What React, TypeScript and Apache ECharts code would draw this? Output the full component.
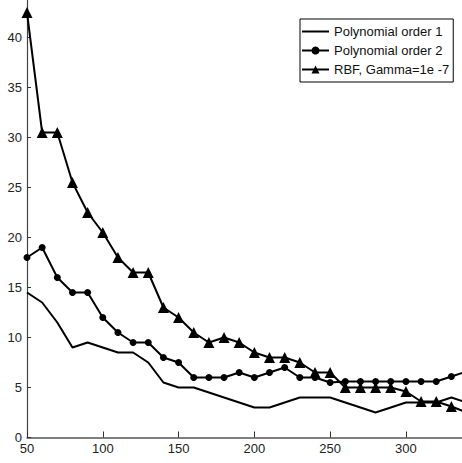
import React, { useEffect, useRef } from "react";
import * as echarts from "echarts";

const xValues = [50, 60, 70, 80, 90, 100, 110, 120, 130, 140, 150, 160, 170, 180, 190, 200, 210, 220, 230, 240, 250, 260, 270, 280, 290, 300, 310, 320, 330, 340];
const poly1 = [14.5, 13.5, 11.5, 9.0, 9.5, 9.0, 8.5, 8.5, 7.5, 5.5, 5.0, 5.0, 4.5, 4.0, 3.5, 3.0, 3.0, 3.5, 4.0, 4.0, 4.0, 3.5, 3.0, 2.5, 3.0, 3.5, 3.5, 3.5, 4.0, 3.5];
const poly2 = [18.0, 19.0, 16.0, 14.5, 14.5, 12.0, 10.5, 9.5, 9.5, 8.0, 7.5, 6.0, 6.0, 6.0, 6.5, 6.0, 6.5, 7.0, 6.0, 6.0, 5.5, 5.6, 5.6, 5.6, 5.6, 5.6, 5.6, 5.6, 6.1, 6.6];
const rbf = [42.5, 30.5, 30.5, 25.5, 22.5, 20.5, 18.0, 16.5, 16.5, 13.0, 12.0, 10.5, 9.5, 10.0, 9.5, 8.5, 8.0, 8.0, 7.5, 6.5, 6.5, 5.0, 5.0, 5.0, 5.0, 4.6, 3.6, 3.6, 3.1, 2.5];
const seriesNames = ["Polynomial order 1", "Polynomial order 2", "RBF, Gamma=1e -7"];
const xTicks = [50, 100, 150, 200, 250, 300];
const yTicks = [0, 5, 10, 15, 20, 25, 30, 35, 40];

export default function App() {
  const ref = useRef<HTMLDivElement>(null);
  useEffect(() => {
    if (!ref.current) return;
    const chart = echarts.init(ref.current, null, { renderer: "svg" });
    const pair = (arr: number[]) => xValues.map((x, i) => [x, arr[i]]);
    const font = "Liberation Sans, Arial, sans-serif";
    chart.setOption({
      animation: false,
      backgroundColor: "#ffffff",
      grid: { left: 27, right: 0, top: 0, bottom: 25.5, containLabel: false },
      legend: {
        left: 300,
        top: 19,
        orient: "vertical",
        itemWidth: 27,
        itemHeight: 10,
        itemGap: 6,
        padding: [6, 4, 6, 1],
        borderColor: "#000",
        borderWidth: 1,
        backgroundColor: "#fff",
        textStyle: { fontFamily: font, fontSize: 13, color: "#111" },
        data: [
          { name: seriesNames[0], itemStyle: { opacity: 0 } },
          { name: seriesNames[1] },
          { name: seriesNames[2] },
        ],
      },
      xAxis: {
        type: "value",
        min: 50,
        max: 337,
        interval: 50,
        splitLine: { show: false },
        axisLine: { show: true, onZero: false, lineStyle: { color: "#555", width: 1.5 } },
        axisTick: { show: true, inside: true, length: 6, customValues: xTicks, lineStyle: { color: "#333" } },
        axisLabel: { customValues: xTicks, fontFamily: font, fontSize: 13, color: "#222", margin: 4 },
      },
      yAxis: {
        type: "value",
        min: 0,
        max: 43.75,
        interval: 5,
        splitLine: { show: false },
        axisLine: { show: true, onZero: false, lineStyle: { color: "#444", width: 1.2 } },
        axisTick: { show: true, inside: true, length: 4, customValues: yTicks, lineStyle: { color: "#333" } },
        axisLabel: { customValues: yTicks, fontFamily: font, fontSize: 13, color: "#222", margin: 5 },
      },
      series: [
        {
          name: seriesNames[0],
          type: "line",
          data: pair(poly1),
          symbol: "none",
          lineStyle: { color: "#000", width: 2 },
          itemStyle: { color: "#000" },
          clip: true,
        },
        {
          name: seriesNames[1],
          type: "line",
          data: pair(poly2),
          symbol: "circle",
          symbolSize: 7,
          lineStyle: { color: "#000", width: 2 },
          itemStyle: { color: "#000" },
          clip: true,
        },
        {
          name: seriesNames[2],
          type: "line",
          data: pair(rbf),
          symbol: "triangle",
          symbolSize: 11,
          lineStyle: { color: "#000", width: 2 },
          itemStyle: { color: "#000" },
          clip: true,
        },
      ],
    });
    return () => chart.dispose();
  }, []);
  return (
    <div
      ref={ref}
      style={{ position: "fixed", left: 0, top: 0, width: 462, height: 463, background: "#fff" }}
    />
  );
}
